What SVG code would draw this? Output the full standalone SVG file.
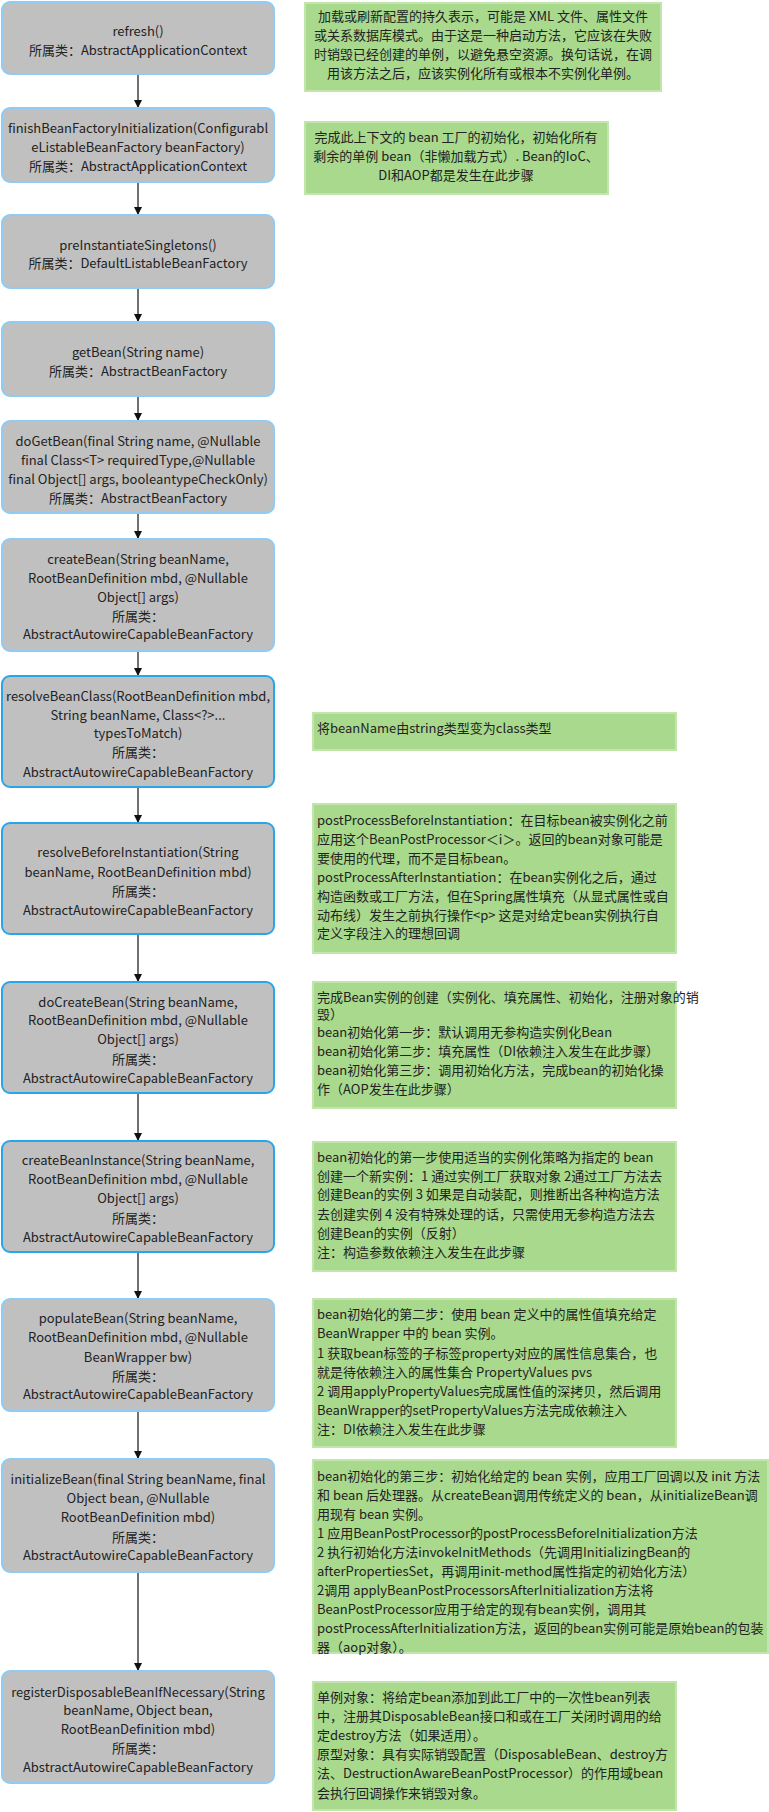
<svg xmlns="http://www.w3.org/2000/svg" width="769" height="1812" viewBox="0 0 769 1812">
<style>
.node{fill:#c0c0c0;stroke:#8ecbf5;stroke-width:2}
.node2{fill:#c0c0c0;stroke:#2aa5ea;stroke-width:2}
.note{fill:#a9d98c;stroke:#c2e4ad;stroke-width:2}
text{font-family:"Noto Sans CJK SC","Noto Sans",sans-serif;font-size:13px;fill:#222}
.c{text-anchor:middle}
.conn{stroke:#111;stroke-width:1.2;fill:none}
</style>
<defs>
<marker id="arr" markerWidth="8" markerHeight="10" refX="7" refY="4" orient="auto" markerUnits="userSpaceOnUse"><path d="M0,0 L8,4 L0,8 Z" fill="#111"/></marker>
</defs>
<g id="connectors">
<line class="conn" x1="138" y1="75" x2="138" y2="107" marker-end="url(#arr)"/>
<line class="conn" x1="138" y1="183" x2="138" y2="214" marker-end="url(#arr)"/>
<line class="conn" x1="138" y1="289" x2="138" y2="321" marker-end="url(#arr)"/>
<line class="conn" x1="138" y1="397" x2="138" y2="420" marker-end="url(#arr)"/>
<line class="conn" x1="138" y1="514" x2="138" y2="538" marker-end="url(#arr)"/>
<line class="conn" x1="138" y1="652" x2="138" y2="675" marker-end="url(#arr)"/>
<line class="conn" x1="138" y1="788" x2="138" y2="822" marker-end="url(#arr)"/>
<line class="conn" x1="138" y1="935" x2="138" y2="981" marker-end="url(#arr)"/>
<line class="conn" x1="138" y1="1094" x2="138" y2="1140" marker-end="url(#arr)"/>
<line class="conn" x1="138" y1="1253" x2="138" y2="1298" marker-end="url(#arr)"/>
<line class="conn" x1="138" y1="1412" x2="138" y2="1458" marker-end="url(#arr)"/>
<line class="conn" x1="138" y1="1573" x2="138" y2="1670" marker-end="url(#arr)"/>
</g>
<g id="n1"><rect class="node" x="2" y="2" width="272" height="72" rx="8"/>
<text class="c" x="138" y="36">refresh()</text>
<text class="c" x="138" y="55">所属类：AbstractApplicationContext</text></g>
<g id="n2"><rect class="node" x="2" y="108" width="272" height="74" rx="8"/>
<text class="c" x="138" y="133">finishBeanFactoryInitialization(Configurabl</text>
<text class="c" x="138" y="152">eListableBeanFactory beanFactory)</text>
<text class="c" x="138" y="171">所属类：AbstractApplicationContext</text></g>
<g id="n3"><rect class="node" x="2" y="215" width="272" height="73" rx="8"/>
<text class="c" x="138" y="250">preInstantiateSingletons()</text>
<text class="c" x="138" y="268">所属类：DefaultListableBeanFactory</text></g>
<g id="n4"><rect class="node" x="2" y="322" width="272" height="74" rx="8"/>
<text class="c" x="138" y="357">getBean(String name)</text>
<text class="c" x="138" y="376">所属类：AbstractBeanFactory</text></g>
<g id="n5"><rect class="node" x="2" y="421" width="272" height="92" rx="8"/>
<text class="c" x="138" y="446">doGetBean(final String name, @Nullable</text>
<text class="c" x="138" y="465">final Class&lt;T&gt; requiredType,@Nullable</text>
<text class="c" x="138" y="484">final Object[] args, booleantypeCheckOnly)</text>
<text class="c" x="138" y="503">所属类：AbstractBeanFactory</text></g>
<g id="n6"><rect class="node" x="2" y="539" width="272" height="112" rx="8"/>
<text class="c" x="138" y="564">createBean(String beanName,</text>
<text class="c" x="138" y="583">RootBeanDefinition mbd, @Nullable</text>
<text class="c" x="138" y="602">Object[] args)</text>
<text class="c" x="138" y="621">所属类：</text>
<text class="c" x="138" y="639">AbstractAutowireCapableBeanFactory</text></g>
<g id="n7"><rect class="node2" x="2" y="676" width="272" height="111" rx="8"/>
<text class="c" x="138" y="701">resolveBeanClass(RootBeanDefinition mbd,</text>
<text class="c" x="138" y="720">String beanName, Class&lt;?&gt;...</text>
<text class="c" x="138" y="738">typesToMatch)</text>
<text class="c" x="138" y="757">所属类：</text>
<text class="c" x="138" y="777">AbstractAutowireCapableBeanFactory</text></g>
<g id="n8"><rect class="node2" x="2" y="823" width="272" height="111" rx="8"/>
<text class="c" x="138" y="857">resolveBeforeInstantiation(String</text>
<text class="c" x="138" y="877">beanName, RootBeanDefinition mbd)</text>
<text class="c" x="138" y="896">所属类：</text>
<text class="c" x="138" y="915">AbstractAutowireCapableBeanFactory</text></g>
<g id="n9"><rect class="node2" x="2" y="982" width="272" height="111" rx="8"/>
<text class="c" x="138" y="1007">doCreateBean(String beanName,</text>
<text class="c" x="138" y="1025">RootBeanDefinition mbd, @Nullable</text>
<text class="c" x="138" y="1044">Object[] args)</text>
<text class="c" x="138" y="1064">所属类：</text>
<text class="c" x="138" y="1083">AbstractAutowireCapableBeanFactory</text></g>
<g id="n10"><rect class="node2" x="2" y="1141" width="272" height="111" rx="8"/>
<text class="c" x="138" y="1165">createBeanInstance(String beanName,</text>
<text class="c" x="138" y="1184">RootBeanDefinition mbd, @Nullable</text>
<text class="c" x="138" y="1203">Object[] args)</text>
<text class="c" x="138" y="1223">所属类：</text>
<text class="c" x="138" y="1242">AbstractAutowireCapableBeanFactory</text></g>
<g id="n11"><rect class="node" x="2" y="1299" width="272" height="112" rx="8"/>
<text class="c" x="138" y="1323">populateBean(String beanName,</text>
<text class="c" x="138" y="1342">RootBeanDefinition mbd, @Nullable</text>
<text class="c" x="138" y="1362">BeanWrapper bw)</text>
<text class="c" x="138" y="1381">所属类：</text>
<text class="c" x="138" y="1399">AbstractAutowireCapableBeanFactory</text></g>
<g id="n12"><rect class="node" x="2" y="1459" width="272" height="113" rx="8"/>
<text class="c" x="138" y="1484">initializeBean(final String beanName, final</text>
<text class="c" x="138" y="1503">Object bean, @Nullable</text>
<text class="c" x="138" y="1522">RootBeanDefinition mbd)</text>
<text class="c" x="138" y="1542">所属类：</text>
<text class="c" x="138" y="1560">AbstractAutowireCapableBeanFactory</text></g>
<g id="n13"><rect class="node" x="2" y="1671" width="272" height="112" rx="8"/>
<text class="c" x="138" y="1697">registerDisposableBeanIfNecessary(String</text>
<text class="c" x="138" y="1715">beanName, Object bean,</text>
<text class="c" x="138" y="1734">RootBeanDefinition mbd)</text>
<text class="c" x="138" y="1753">所属类：</text>
<text class="c" x="138" y="1772">AbstractAutowireCapableBeanFactory</text></g>

<g id="note1"><rect class="note" x="305" y="3" width="356" height="88"/>
<text class="c" x="483" y="21">加载或刷新配置的持久表示，可能是 XML 文件、属性文件</text>
<text class="c" x="483" y="40">或关系数据库模式。由于这是一种启动方法，它应该在失败</text>
<text class="c" x="483" y="59">时销毁已经创建的单例，以避免悬空资源。换句话说，在调</text>
<text class="c" x="483" y="78">用该方法之后，应该实例化所有或根本不实例化单例。</text></g>
<g id="note2"><rect class="note" x="305" y="122" width="303" height="72"/>
<text class="c" x="456" y="142">完成此上下文的 bean 工厂的初始化，初始化所有</text>
<text class="c" x="456" y="161">剩余的单例 bean（非懒加载方式）. Bean的IoC、</text>
<text class="c" x="456" y="180">DI和AOP都是发生在此步骤</text></g>
<g id="note7"><rect class="note" x="313" y="713" width="363" height="37"/>
<text x="317" y="733">将beanName由string类型变为class类型</text></g>
<g id="note8"><rect class="note" x="313" y="804" width="363" height="149"/>
<text x="317" y="825">postProcessBeforeInstantiation：在目标bean被实例化之前</text>
<text x="317" y="844">应用这个BeanPostProcessor＜i＞。返回的bean对象可能是</text>
<text x="317" y="863">要使用的代理，而不是目标bean。</text>
<text x="317" y="882">postProcessAfterInstantiation：在bean实例化之后，通过</text>
<text x="317" y="901">构造函数或工厂方法，但在Spring属性填充（从显式属性或自</text>
<text x="317" y="920">动布线）发生之前执行操作&lt;p&gt; 这是对给定bean实例执行自</text>
<text x="317" y="938">定义字段注入的理想回调</text></g>
<g id="note9"><rect class="note" x="313" y="982" width="363" height="126"/>
<text x="317" y="1002">完成Bean实例的创建（实例化、填充属性、初始化，注册对象的销</text>
<text x="317" y="1019">毁）</text>
<text x="317" y="1037">bean初始化第一步：默认调用无参构造实例化Bean</text>
<text x="317" y="1056">bean初始化第二步：填充属性（DI依赖注入发生在此步骤）</text>
<text x="317" y="1075">bean初始化第三步：调用初始化方法，完成bean的初始化操</text>
<text x="317" y="1094">作（AOP发生在此步骤）</text></g>
<g id="note10"><rect class="note" x="313" y="1142" width="363" height="129"/>
<text x="317" y="1162">bean初始化的第一步使用适当的实例化策略为指定的 bean</text>
<text x="317" y="1181">创建一个新实例：1 通过实例工厂获取对象 2通过工厂方法去</text>
<text x="317" y="1199">创建Bean的实例 3 如果是自动装配，则推断出各种构造方法</text>
<text x="317" y="1219">去创建实例 4 没有特殊处理的话，只需使用无参构造方法去</text>
<text x="317" y="1238">创建Bean的实例（反射）</text>
<text x="317" y="1257">注：构造参数依赖注入发生在此步骤</text></g>
<g id="note11"><rect class="note" x="313" y="1299" width="363" height="148"/>
<text x="317" y="1319">bean初始化的第二步：使用 bean 定义中的属性值填充给定</text>
<text x="317" y="1338">BeanWrapper 中的 bean 实例。</text>
<text x="317" y="1358">1 获取bean标签的子标签property对应的属性信息集合，也</text>
<text x="317" y="1377">就是待依赖注入的属性集合 PropertyValues pvs</text>
<text x="317" y="1396">2 调用applyPropertyValues完成属性值的深拷贝，然后调用</text>
<text x="317" y="1415">BeanWrapper的setPropertyValues方法完成依赖注入</text>
<text x="317" y="1434">注：DI依赖注入发生在此步骤</text></g>
<g id="note12"><rect class="note" x="313" y="1460" width="455" height="193"/>
<text x="317" y="1481">bean初始化的第三步：初始化给定的 bean 实例，应用工厂回调以及 init 方法</text>
<text x="317" y="1500">和 bean 后处理器。从createBean调用传统定义的 bean，从initializeBean调</text>
<text x="317" y="1519">用现有 bean 实例。</text>
<text x="317" y="1538">1 应用BeanPostProcessor的postProcessBeforeInitialization方法</text>
<text x="317" y="1557">2 执行初始化方法invokeInitMethods（先调用InitializingBean的</text>
<text x="317" y="1576">afterPropertiesSet，再调用init-method属性指定的初始化方法）</text>
<text x="317" y="1595">2调用 applyBeanPostProcessorsAfterInitialization方法将</text>
<text x="317" y="1614">BeanPostProcessor应用于给定的现有bean实例，调用其</text>
<text x="317" y="1633">postProcessAfterInitialization方法，返回的bean实例可能是原始bean的包装</text>
<text x="317" y="1652">器（aop对象）。</text></g>
<g id="note13"><rect class="note" x="313" y="1682" width="363" height="128"/>
<text x="317" y="1702">单例对象：将给定bean添加到此工厂中的一次性bean列表</text>
<text x="317" y="1721">中，注册其DisposableBean接口和或在工厂关闭时调用的给</text>
<text x="317" y="1740">定destroy方法（如果适用）。</text>
<text x="317" y="1759">原型对象：具有实际销毁配置（DisposableBean、destroy方</text>
<text x="317" y="1778">法、DestructionAwareBeanPostProcessor）的作用域bean</text>
<text x="317" y="1798">会执行回调操作来销毁对象。</text></g>
</svg>
